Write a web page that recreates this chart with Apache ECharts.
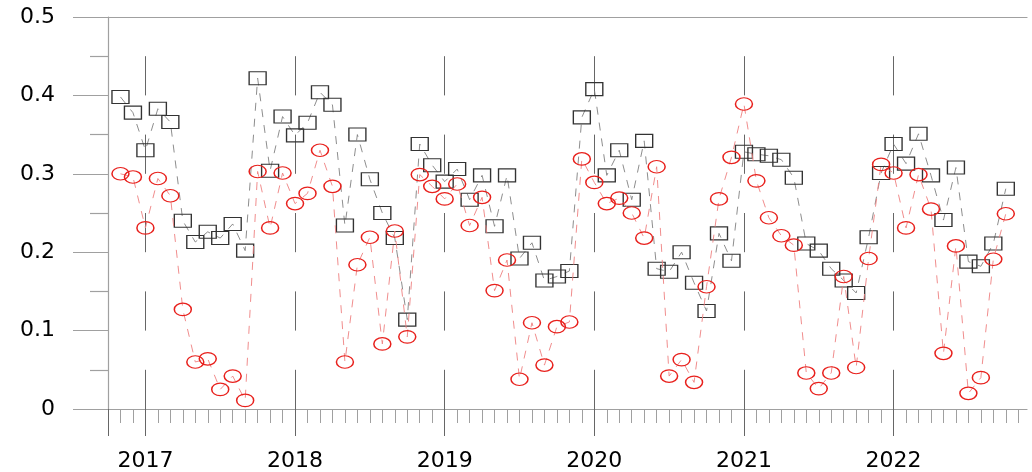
<!DOCTYPE html>
<html><head><meta charset="utf-8">
<script src="https://cdn.jsdelivr.net/npm/echarts@6/dist/echarts.min.js"></script>
<style>html,body{margin:0;padding:0;background:#fff}#c{width:1032px;height:472px}</style>
</head><body><div id="c"></div>
<script>
// Tick labels / categories
const yearLabels = ['2017', '2018', '2019', '2020', '2021', '2022'];
const yearTickMonths = [3, 15, 27, 39, 51, 63]; // months after Oct 2016
const X_MAX = 73.7;

// Series values (monthly, Nov 2016 .. Oct 2022)
const blackValues = [
  0.398, 0.378, 0.330, 0.383, 0.366, 0.240, 0.213, 0.226, 0.218, 0.236, 0.202, 0.422,
  0.304, 0.373, 0.349, 0.365, 0.404, 0.388, 0.234, 0.350, 0.293, 0.250, 0.218, 0.114,
  0.338, 0.311, 0.290, 0.306, 0.267, 0.298, 0.233, 0.298, 0.192, 0.212, 0.164, 0.169,
  0.176, 0.372, 0.408, 0.298, 0.330, 0.267, 0.342, 0.179, 0.175, 0.200, 0.161, 0.125,
  0.224, 0.189, 0.328, 0.325, 0.323, 0.318, 0.295, 0.211, 0.202, 0.179, 0.164, 0.148,
  0.219, 0.301, 0.338, 0.313, 0.351, 0.298, 0.241, 0.308, 0.188, 0.182, 0.211, 0.281
];
const redValues = [
  0.300, 0.296, 0.231, 0.294, 0.272, 0.127, 0.060, 0.064, 0.025, 0.042, 0.011, 0.303,
  0.231, 0.301, 0.262, 0.275, 0.330, 0.284, 0.060, 0.184, 0.219, 0.083, 0.227, 0.092,
  0.299, 0.284, 0.268, 0.287, 0.234, 0.270, 0.151, 0.190, 0.038, 0.110, 0.056, 0.105,
  0.111, 0.319, 0.289, 0.262, 0.269, 0.250, 0.218, 0.309, 0.042, 0.063, 0.034, 0.156,
  0.268, 0.321, 0.389, 0.291, 0.244, 0.221, 0.209, 0.046, 0.026, 0.046, 0.169, 0.053,
  0.192, 0.312, 0.301, 0.231, 0.299, 0.255, 0.071, 0.208, 0.020, 0.040, 0.191, 0.249
];

const monthTicks = [];
for (let m = 0; m <= Math.floor(X_MAX); m++) monthTicks.push(m);
const pts = arr => arr.map((v, i) => [i + 1, v]);
const ellipse = 'path://M0,50 A50,50 0 1,1 100,50 A50,50 0 1,1 0,50 Z';
const FONT = 'DejaVu Sans, Arial, sans-serif';

const chart = echarts.init(document.getElementById('c'), null, {renderer: 'canvas'});
chart.setOption({
  animation: false,
  grid: {left: 108, right: 5, top: 17, bottom: 63},
  xAxis: [
    {
      type: 'value', min: 0, max: X_MAX, position: 'bottom',
      axisLine: {show: true, lineStyle: {color: '#a0a0a0', width: 1.2}},
      axisTick: {show: true, customValues: monthTicks, length: 14, lineStyle: {color: '#a0a0a0'}},
      axisLabel: {show: false}, splitLine: {show: false}
    },
    {
      type: 'value', min: 0, max: X_MAX, position: 'bottom',
      axisLine: {show: false},
      axisTick: {show: true, customValues: [0].concat(yearTickMonths), length: 27, lineStyle: {color: '#666'}},
      axisLabel: {
        show: true, customValues: yearTickMonths,
        formatter: v => yearLabels[yearTickMonths.indexOf(Math.round(v))],
        margin: 41, fontSize: 22, fontFamily: FONT, color: '#000'
      },
      splitLine: {show: true, lineStyle: {color: '#666', width: 1, type: [39.2, 39.2], dashOffset: 39.2}}
    },
    {
      type: 'value', min: 0, max: X_MAX, position: 'top',
      axisLine: {show: true, lineStyle: {color: '#a0a0a0', width: 1.2}},
      axisTick: {show: false}, axisLabel: {show: false}, splitLine: {show: false}
    }
  ],
  yAxis: {
    type: 'value', min: 0, max: 0.5, interval: 0.1,
    axisLine: {show: true, lineStyle: {color: '#a0a0a0', width: 1.2}},
    axisTick: {show: true, length: 35, lineStyle: {color: '#a0a0a0', width: 1.2}},
    minorTick: {show: true, splitNumber: 2, length: 18, lineStyle: {color: '#a0a0a0', width: 1.2}},
    axisLabel: {margin: 53, fontSize: 22, fontFamily: FONT, color: '#000'},
    splitLine: {show: false}
  },
  series: [
    {
      type: 'line', xAxisIndex: 0, data: pts(blackValues),
      symbol: 'rect', symbolSize: [17, 13],
      itemStyle: {color: 'rgba(0,0,0,0)', borderColor: '#333', borderWidth: 1.2},
      lineStyle: {color: '#808080', width: 0.9, type: [8, 8]},
      silent: true, z: 2
    },
    {
      type: 'line', xAxisIndex: 0, data: pts(redValues),
      symbol: ellipse, symbolSize: [17, 12.5], symbolKeepAspect: false,
      itemStyle: {color: 'rgba(0,0,0,0)', borderColor: '#e8201c', borderWidth: 1.3},
      lineStyle: {color: '#ee8080', width: 0.9, type: [8, 8]},
      silent: true, z: 3
    }
  ]
});
</script></body></html>
